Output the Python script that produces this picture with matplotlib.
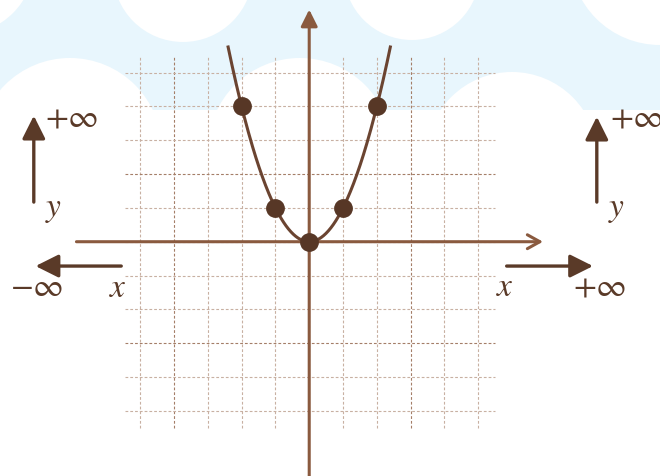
import numpy as np
import matplotlib
matplotlib.use('Agg')
import matplotlib.pyplot as plt
from matplotlib.patches import Rectangle, Circle, FancyArrowPatch

plt.rcParams['mathtext.fontset'] = 'stix'

# points on y = x^2
pts_x = [-2, -1, 0, 1, 2]
pts_y = [4, 1, 0, 1, 4]
grid_ticks = [-5, -4, -3, -2, -1, 0, 1, 2, 3, 4, 5]
dark_h = [2, -3]
dark_v = [-4, 3]
lbl_pinf = r'$+\infty$'
lbl_minf = r'$-\infty$'

axis_col = '#8a5a3f'
curve_col = '#6b4431'
dot_col = '#573726'
arrow_col = '#5a3a28'
wm_col = '#e8f6fd'

fig = plt.figure(figsize=(6.6, 4.76), dpi=100)
ax = fig.add_axes([0, 0, 1, 1])
ax.set_xlim(-9.15, 10.38)
ax.set_ylim(-6.93, 7.15)
ax.axis('off')

# faint watermark band at the top
u = 33.8
def px(x, y):
    return ((x - 309.3) / u, (241.7 - y) / u)
x0, y0 = px(0, 110)
ax.add_patch(Rectangle((x0, y0), 20, 5, color=wm_col, zorder=0, lw=0))
for cx, cy, r in [(183, -28, 70), (412, -28, 68), (660, -45, 90), (-40, -40, 75),
                  (70, 150, 92), (300, 150, 92), (512, 158, 86)]:
    ax.add_patch(Circle(px(cx, cy), r / u, color='white', zorder=0.5, lw=0))

# grid
for g in grid_ticks:
    c = '#a47e68' if g in dark_v else '#c8b0a2'
    ax.plot([g, g], [-5.5, 5.45], color=c, lw=0.8, ls=(0, (2.5, 1.8)), zorder=1)
for g in grid_ticks:
    c = '#a47e68' if g in dark_h else '#c8b0a2'
    ax.plot([-5.45, 5.5], [g, g], color=c, lw=0.8, ls=(0, (2.5, 1.8)), zorder=1)

# axes with arrows
ax.add_patch(FancyArrowPatch((-6.97, 0), (7.0, 0), arrowstyle='->,head_length=0.45,head_width=0.25',
                             color=axis_col, lw=2.2, mutation_scale=20, zorder=2))
ax.add_patch(FancyArrowPatch((0, -7.2), (0, 6.95), arrowstyle='-|>,head_length=0.5,head_width=0.25',
                             color=axis_col, lw=2.2, mutation_scale=20, zorder=2))

# parabola
xs = np.linspace(-2.4, 2.4, 200)
ax.plot(xs, xs ** 2, color=curve_col, lw=2.2, zorder=3)
ax.plot(pts_x, pts_y, 'o', color=dot_col, markersize=12.5, zorder=4)

# side arrows
def arr(p0, p1):
    ax.add_patch(FancyArrowPatch(p0, p1, arrowstyle='-|>,head_length=0.7,head_width=0.35',
                                 color=arrow_col, lw=2.4, mutation_scale=20, zorder=3))
arr((-8.15, 1.09), (-8.15, 3.81))
arr((-5.48, -0.72), (-8.18, -0.72))
arr((8.51, 1.09), (8.51, 3.78))
arr((5.76, -0.72), (8.48, -0.72))

tk = dict(color=arrow_col, fontsize=24, ha='center', va='center', zorder=5)
ax.text(-7.02, 3.69, lbl_pinf, **tk)
ax.text(-7.58, 0.98, r'$y$', **tk)
ax.text(-8.06, -1.31, lbl_minf, **tk)
ax.text(-5.66, -1.34, r'$x$', **tk)
ax.text(8.9, 3.69, lbl_pinf, color=arrow_col, fontsize=24, ha='left', va='center', zorder=5)
ax.text(9.1, 0.98, r'$y$', **tk)
ax.text(5.79, -1.31, r'$x$', **tk)
ax.text(8.6, -1.31, lbl_pinf, **tk)

fig.savefig('out.png', dpi=100)
